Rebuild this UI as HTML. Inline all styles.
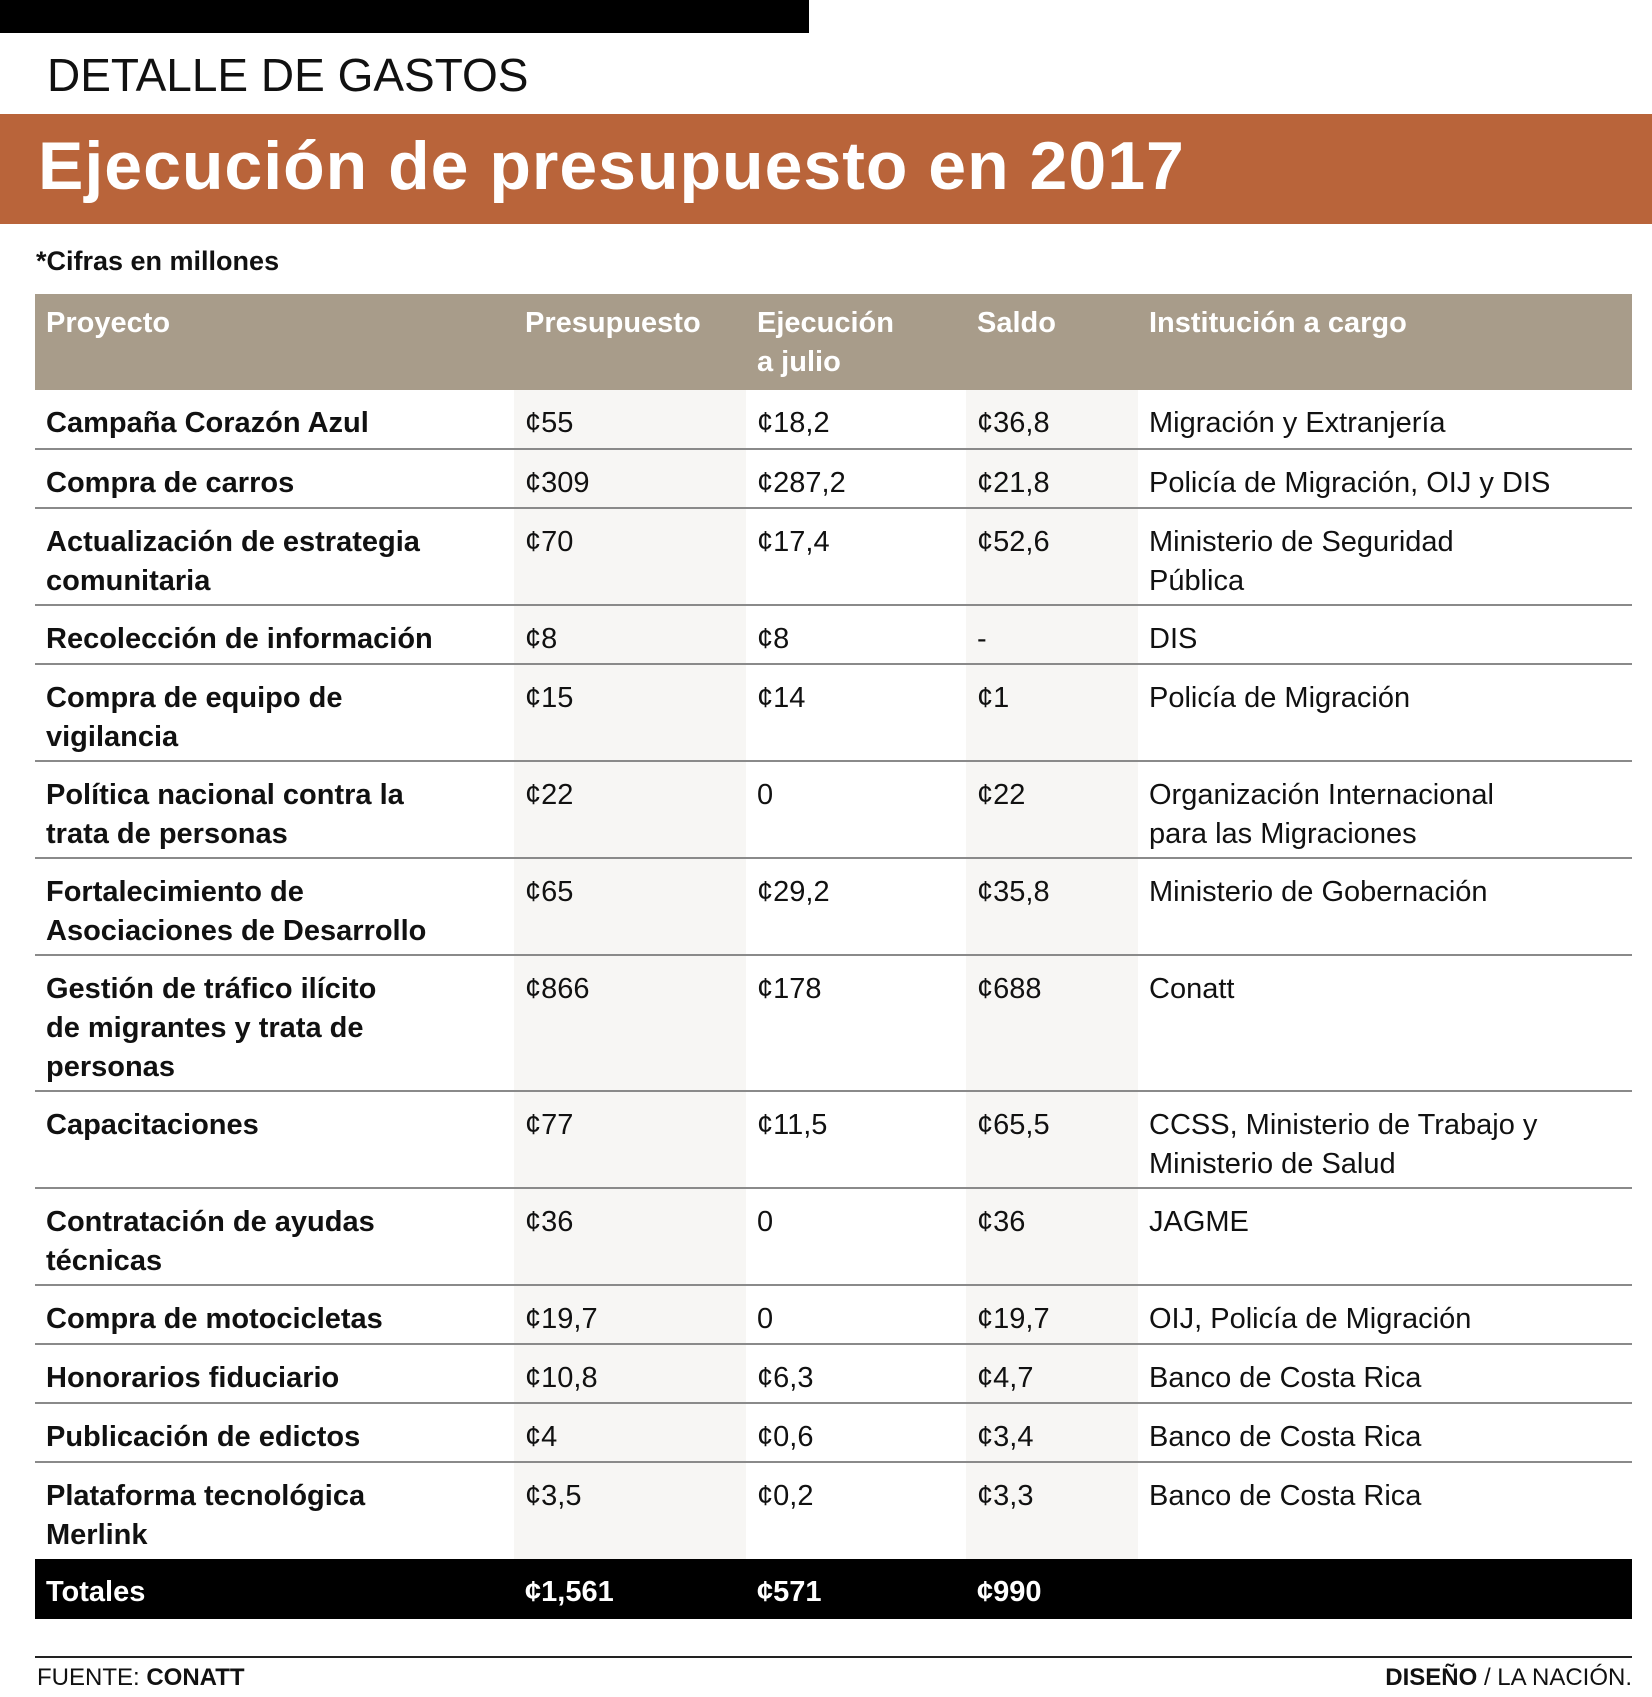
<!DOCTYPE html>
<html><head><meta charset="utf-8">
<style>
body{margin:0;width:1652px;height:1697px;background:#fff;position:relative;font-family:"Liberation Sans",sans-serif;overflow:hidden;color:#111}
.abs{position:absolute}
table{position:absolute;left:35px;top:294px;width:1597px;border-collapse:collapse;table-layout:fixed}
td,th{padding:14px 0 0 11px;vertical-align:top;font-size:29px;line-height:39px;text-align:left}
th{background:#a89c8a;color:#fff;font-weight:bold;height:86px;padding-top:10px}
tbody tr{border-bottom:2px solid #8a8a8a}
tbody td:first-child{font-weight:bold}
td.sh{background:#f7f6f4}
tr.tot{background:#000;color:#fff;border:none}
tr.tot td{font-weight:bold;background:#000;height:46px}
</style></head><body>
<div class="abs" style="left:0;top:0;width:809px;height:33px;background:#000"></div>
<div class="abs" style="left:47px;top:48px;font-size:46px;color:#111">DETALLE DE GASTOS</div>
<div class="abs" style="left:0;top:114px;width:1652px;height:110px;background:#b9643a"></div>
<div class="abs" style="left:38px;top:127px;font-size:68px;font-weight:bold;color:#fff;letter-spacing:1px">Ejecución de presupuesto en 2017</div>
<div class="abs" style="left:36px;top:246px;font-size:27px;font-weight:bold">*Cifras en millones</div>
<table>
<colgroup><col style="width:479px"><col style="width:232px"><col style="width:220px"><col style="width:172px"><col></colgroup>
<thead><tr><th>Proyecto</th><th>Presupuesto</th><th>Ejecución<br>a julio</th><th>Saldo</th><th>Institución a cargo</th></tr></thead>
<tbody>
<tr style="height:59px"><td>Campaña Corazón Azul</td><td class="sh">¢55</td><td>¢18,2</td><td class="sh">¢36,8</td><td>Migración y Extranjería</td></tr>
<tr style="height:59px"><td>Compra de carros</td><td class="sh">¢309</td><td>¢287,2</td><td class="sh">¢21,8</td><td>Policía de Migración, OIJ y DIS</td></tr>
<tr style="height:97px"><td>Actualización de estrategia<br>comunitaria</td><td class="sh">¢70</td><td>¢17,4</td><td class="sh">¢52,6</td><td>Ministerio de Seguridad<br>Pública</td></tr>
<tr style="height:59px"><td>Recolección de información</td><td class="sh">¢8</td><td>¢8</td><td class="sh">-</td><td>DIS</td></tr>
<tr style="height:97px"><td>Compra de equipo de<br>vigilancia</td><td class="sh">¢15</td><td>¢14</td><td class="sh">¢1</td><td>Policía de Migración</td></tr>
<tr style="height:97px"><td>Política nacional contra la<br>trata de personas</td><td class="sh">¢22</td><td>0</td><td class="sh">¢22</td><td>Organización Internacional<br>para las Migraciones</td></tr>
<tr style="height:97px"><td>Fortalecimiento de<br>Asociaciones de Desarrollo</td><td class="sh">¢65</td><td>¢29,2</td><td class="sh">¢35,8</td><td>Ministerio de Gobernación</td></tr>
<tr style="height:136px"><td>Gestión de tráfico ilícito<br>de migrantes y trata de<br>personas</td><td class="sh">¢866</td><td>¢178</td><td class="sh">¢688</td><td>Conatt</td></tr>
<tr style="height:97px"><td>Capacitaciones</td><td class="sh">¢77</td><td>¢11,5</td><td class="sh">¢65,5</td><td>CCSS, Ministerio de Trabajo y<br>Ministerio de Salud</td></tr>
<tr style="height:97px"><td>Contratación de ayudas<br>técnicas</td><td class="sh">¢36</td><td>0</td><td class="sh">¢36</td><td>JAGME</td></tr>
<tr style="height:59px"><td>Compra de motocicletas</td><td class="sh">¢19,7</td><td>0</td><td class="sh">¢19,7</td><td>OIJ, Policía de Migración</td></tr>
<tr style="height:59px"><td>Honorarios fiduciario</td><td class="sh">¢10,8</td><td>¢6,3</td><td class="sh">¢4,7</td><td>Banco de Costa Rica</td></tr>
<tr style="height:59px"><td>Publicación de edictos</td><td class="sh">¢4</td><td>¢0,6</td><td class="sh">¢3,4</td><td>Banco de Costa Rica</td></tr>
<tr style="height:97px;border-bottom:none"><td>Plataforma tecnológica<br>Merlink</td><td class="sh">¢3,5</td><td>¢0,2</td><td class="sh">¢3,3</td><td>Banco de Costa Rica</td></tr>
<tr class="tot"><td>Totales</td><td>¢1,561</td><td>¢571</td><td>¢990</td><td></td></tr>
</tbody></table>
<div class="abs" style="left:35px;top:1656px;width:1597px;height:2px;background:#222"></div>
<div class="abs" style="left:37px;top:1664px;font-size:24px">FUENTE: <b>CONATT</b></div>
<div class="abs" style="right:20px;top:1664px;font-size:24px"><b>DISEÑO</b> / LA NACIÓN.</div>
</body></html>
